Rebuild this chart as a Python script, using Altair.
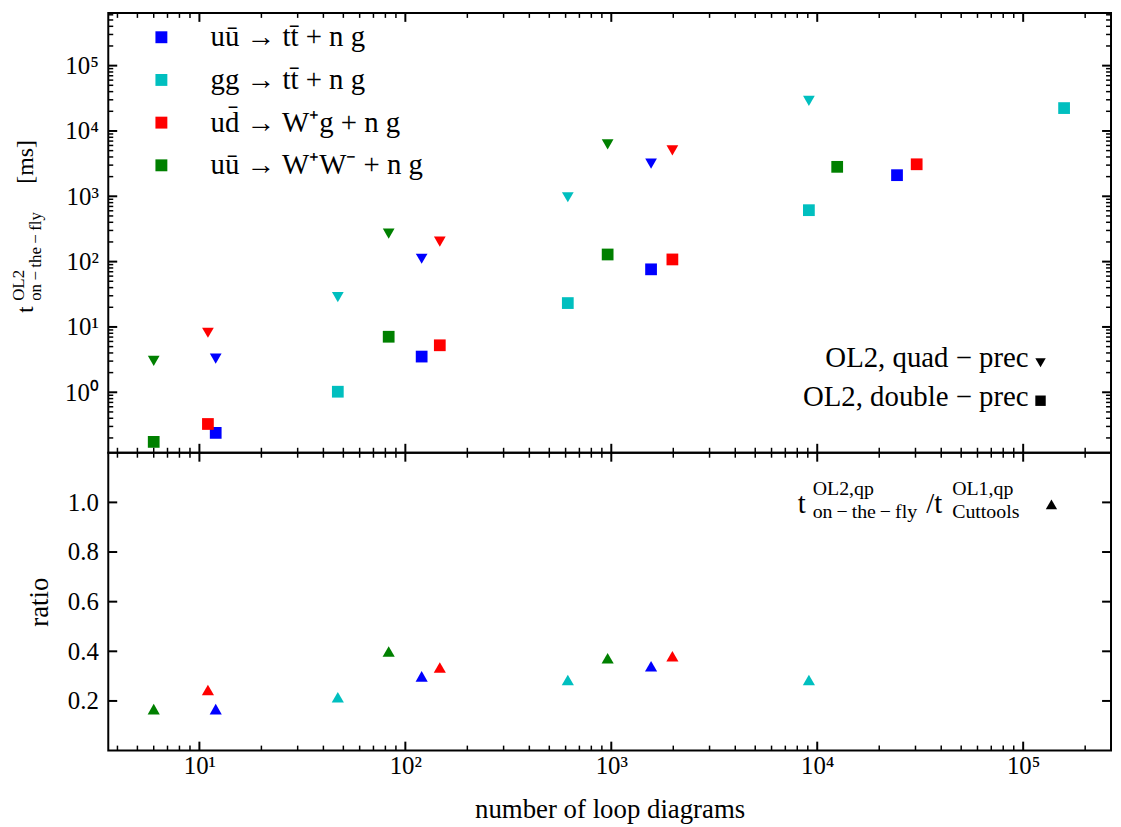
import altair as alt
import pandas as pd

FONT = "Liberation Serif"

# ---------------- data ----------------
processes = ["uū → tt̄ + n g", "gg → tt̄ + n g", "ud̄ → W⁺g + n g", "uū → W⁺W⁻ + n g"]
colors = ["#0000ff", "#00bfbf", "#ff0000", "#008000"]

# number of loop diagrams (multiplicities n = 0..3)
loops_uu_tt = [12, 120, 1560, 24400]
loops_gg_tt = [47, 615, 9110, 158000]
loops_ud_Wg = [11, 147, 1980, 30400]
loops_uu_WW = [6, 83, 960, 12500]

# OL2 double-precision time per point [ms]
dp_uu_tt = [0.239, 3.52, 76.2, 2105]
dp_gg_tt = [1.02, 23.2, 613, 22400]
dp_ud_Wg = [0.327, 5.24, 108, 3090]
dp_uu_WW = [0.174, 7.08, 128.6, 2824]

# OL2 quad-precision time per point [ms]
qp_uu_tt = [3.28, 110.7, 3169]
qp_gg_tt = [28.6, 966, 28900]
qp_ud_Wg = [8.14, 202.5, 5043]
qp_uu_WW = [3.03, 268, 6220]

# ratio OL2 / OL1 (quad precision)
ratio_uu_tt = [0.167, 0.299, 0.340]
ratio_gg_tt = [0.215, 0.284, 0.284]
ratio_ud_Wg = [0.244, 0.335, 0.380]
ratio_uu_WW = [0.167, 0.399, 0.372]

prec_labels = ["OL2, quad − prec", "OL2, double − prec"]
prec_shapes = ["triangle-down", "square"]

x_major = [10, 100, 1000, 10000, 100000]
x_minor = [k * 10 ** d for d in range(0, 6) for k in range(2, 10)]
y_top_major = [1, 10, 100, 1000, 10000, 100000]
y_top_minor = [k * 10.0 ** d for d in range(-1, 6) for k in range(2, 10)]
y_bot_major = [0.2, 0.4, 0.6, 0.8, 1.0]

XDOM = [3.61, 2.67e5]
YDOM_TOP = [0.1187, 6.41e5]
YDOM_BOT = [0.0, 1.2]

W = 1010
H_TOP = 443
H_BOT = 300

THIN = "\u2009"

# ---------------- tables ----------------
loops_all = [loops_uu_tt, loops_gg_tt, loops_ud_Wg, loops_uu_WW]
dp_all = [dp_uu_tt, dp_gg_tt, dp_ud_Wg, dp_uu_WW]
qp_all = [qp_uu_tt, qp_gg_tt, qp_ud_Wg, qp_uu_WW]
ratio_all = [ratio_uu_tt, ratio_gg_tt, ratio_ud_Wg, ratio_uu_WW]

rows = []
for p, lx, d, q in zip(processes, loops_all, dp_all, qp_all):
    for a, b in zip(lx, q):
        rows.append({"process": p, "loops": a, "time": b, "prec": prec_labels[0]})
    for a, b in zip(lx, d):
        rows.append({"process": p, "loops": a, "time": b, "prec": prec_labels[1]})
df_top = pd.DataFrame(rows)

rrows = []
for p, lx, r in zip(processes, loops_all, ratio_all):
    for a, b in zip(lx, r):
        rrows.append({"process": p, "loops": a, "ratio": b})
df_bot = pd.DataFrame(rrows)

sup = {0: "⁰", 1: "¹", 2: "²", 3: "³", 4: "⁴", 5: "⁵"}
pow_expr = "".join(
    f"round(log(datum.value)/LN10) == {k} ? '10{s}' : " for k, s in sup.items()
) + "''"

xs = alt.Scale(type="log", domain=XDOM, nice=False)
ys_top = alt.Scale(type="log", domain=YDOM_TOP, nice=False)
ys_bot = alt.Scale(domain=YDOM_BOT, nice=False, zero=False)
cscale = alt.Scale(domain=processes, range=colors)
sscale = alt.Scale(domain=prec_labels, range=prec_shapes)

y_axis_top = alt.Axis(values=y_top_major, labelExpr=pow_expr, ticks=False, domain=False,
                      grid=False, title=None, labelFont=FONT, labelFontSize=25,
                      labelPadding=10, labelColor="black")
x_axis_bot = alt.Axis(values=x_major, labelExpr=pow_expr, ticks=False, domain=False,
                      grid=False, title="number of loop diagrams", labelFont=FONT,
                      labelFontSize=25, labelPadding=3, labelColor="black",
                      titleFont=FONT, titleFontSize=27, titleFontWeight="normal",
                      titlePadding=18, titleColor="black")
y_axis_bot = alt.Axis(values=y_bot_major, format=".1f", ticks=False, domain=False,
                      grid=False, title="ratio", labelFont=FONT, labelFontSize=25,
                      labelPadding=10, labelColor="black", titleFont=FONT,
                      titleFontSize=27, titleFontWeight="normal", titlePadding=14,
                      titleColor="black")


def x_ticks(vals, length, width, H, xaxis):
    df = pd.DataFrame({"xt": [v for v in vals if XDOM[0] <= v <= XDOM[1]]})
    base = alt.Chart(df).mark_rule(color="black", strokeWidth=width)
    top = base.encode(x=alt.X("xt:Q", scale=xs, axis=xaxis), y=alt.value(0), y2=alt.value(length))
    bot = base.encode(x=alt.X("xt:Q", scale=xs, axis=xaxis), y=alt.value(H), y2=alt.value(H - length))
    return [top, bot]


def y_ticks(vals, dom, scale, length, width, yaxis):
    df = pd.DataFrame({"yt": [v for v in vals if dom[0] <= v <= dom[1]]})
    base = alt.Chart(df).mark_rule(color="black", strokeWidth=width)
    left = base.encode(y=alt.Y("yt:Q", scale=scale, axis=yaxis), x=alt.value(0), x2=alt.value(length))
    right = base.encode(y=alt.Y("yt:Q", scale=scale, axis=yaxis), x=alt.value(W), x2=alt.value(W - length))
    return [left, right]


def txt(text, x, y, size, angle=0, align="left"):
    return alt.Chart(pd.DataFrame({"t": [text]})).mark_text(
        align=align, baseline="alphabetic", font=FONT, fontSize=size, angle=angle, color="black"
    ).encode(text="t:N", x=alt.value(x), y=alt.value(y))


def key_symbol(shape, x, y, size=110):
    return alt.Chart(pd.DataFrame({"s": [shape]})).mark_point(
        filled=True, size=size, color="black", opacity=1, strokeWidth=0
    ).encode(shape=alt.Shape("s:N", scale=None, legend=None), x=alt.value(x), y=alt.value(y))


# ---------------- top panel ----------------
pts_top = alt.Chart(df_top).mark_point(filled=True, size=140, opacity=1, strokeWidth=0).encode(
    x=alt.X("loops:Q", scale=xs, axis=None),
    y=alt.Y("time:Q", scale=ys_top, axis=y_axis_top),
    color=alt.Color("process:N", scale=cscale, legend=alt.Legend(
        orient="none", legendX=39, legendY=10, title=None, symbolType="square",
        symbolSize=144, symbolStrokeWidth=0, labelFont=FONT, labelFontSize=29,
        labelColor="black", labelOffset=35, rowPadding=13, padding=0, labelLimit=400)),
    shape=alt.Shape("prec:N", scale=sscale, legend=None),
)

top_layers = [pts_top]
top_layers += x_ticks(x_major, 9, 2, H_TOP, None) + x_ticks(x_minor, 5, 1.5, H_TOP, None)
top_layers += y_ticks(y_top_major, YDOM_TOP, ys_top, 9, 2, y_axis_top)
top_layers += y_ticks(y_top_minor, YDOM_TOP, ys_top, 5, 1.5, y_axis_top)
# y-axis title t^{OL2}_{on-the-fly} [ms]
sub_text = f"on{THIN}−{THIN}the{THIN}−{THIN}fly"
top_layers += [
    txt("t", -76, 302, 23, angle=270),
    txt("OL2", -85, 290, 17, angle=270),
    txt(sub_text, -68, 290, 17, angle=270),
    txt("[ms]", -76, 172, 24, angle=270),
]
# precision key
top_layers += [
    txt(prec_labels[0], 927, 356.5, 29, align="right"),
    key_symbol(prec_shapes[0], 939, 352.4),
    txt(prec_labels[1], 927, 395.6, 29, align="right"),
    key_symbol(prec_shapes[1], 939, 390.6),
]
top = alt.layer(*top_layers).properties(width=W, height=H_TOP)

# ---------------- bottom panel ----------------
pts_bot = alt.Chart(df_bot).mark_point(filled=True, size=150, opacity=1, strokeWidth=0,
                                        shape="triangle-up").encode(
    x=alt.X("loops:Q", scale=xs, axis=x_axis_bot),
    y=alt.Y("ratio:Q", scale=ys_bot, axis=y_axis_bot),
    color=alt.Color("process:N", scale=cscale, legend=None),
)
bot_layers = [pts_bot]
bot_layers += x_ticks(x_major, 9, 2, H_BOT, x_axis_bot) + x_ticks(x_minor, 5, 1.5, H_BOT, x_axis_bot)
bot_layers += y_ticks(y_bot_major, YDOM_BOT, ys_bot, 9, 2, y_axis_bot)
# annotation t^{OL2,qp}_{on-the-fly} / t^{OL1,qp}_{Cuttools}  ▲
bot_layers += [
    txt("t", 694.5, 61, 29),
    txt("OL2,qp", 709.5, 43, 20),
    txt(sub_text, 709.5, 66, 20),
    txt("/t", 824, 61, 29),
    txt("OL1,qp", 850, 43, 20),
    txt("Cuttools", 850, 66, 20),
    key_symbol("triangle-up", 950, 52, 130),
]
bottom = alt.layer(*bot_layers).properties(width=W, height=H_BOT)

chart = alt.vconcat(top, bottom, spacing=0, bounds="flush").resolve_scale(
    color="independent", shape="independent"
).properties(
    padding={"left": 1, "top": 0, "right": 0, "bottom": 0}
).configure_view(stroke="black", strokeWidth=2).configure_axis(grid=False)

chart.save("out.html", embed_options={"renderer": "svg", "actions": False})
